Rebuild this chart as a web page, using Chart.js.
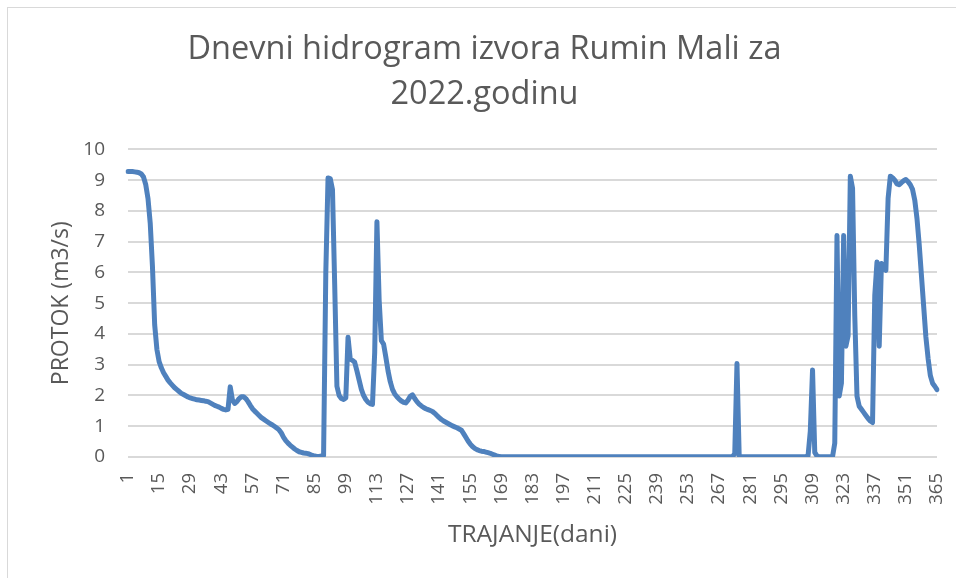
<!DOCTYPE html>
<html>
<head>
  <meta charset="UTF-8">
  <title>Dnevni hidrogram izvora Rumin Mali</title>
  <script src="https://cdn.jsdelivr.net/npm/chart.js"></script>
  <style>
    html, body { margin: 0; padding: 0; background: #ffffff; }
    #hidrogram { display: block; }
  </style>
</head>
<body>
  <canvas id="hidrogram" width="956" height="578"></canvas>
  <script>
    // Days of the year 2022 (categories on the x axis)
    const days = Array.from({ length: 365 }, (_, i) => i + 1);

    // Days that carry a label on the x axis (every 14th day)
    const tickDays = [1, 15, 29, 43, 57, 71, 85, 99, 113, 127, 141, 155, 169, 183,
      197, 211, 225, 239, 253, 267, 281, 295, 309, 323, 337, 351, 365];

    // Daily discharge (m3/s), 14 days per row
    const protok = [
      9.28, 9.28, 9.28, 9.27, 9.26, 9.24, 9.2, 9.1, 8.85, 8.4, 7.6, 6.2, 4.3, 3.5,          // 1-14
      3.1, 2.9, 2.74, 2.62, 2.5, 2.41, 2.33, 2.25, 2.19, 2.13, 2.07, 2.03, 1.99, 1.95,      // 15-28
      1.92, 1.9, 1.88, 1.86, 1.85, 1.84, 1.83, 1.81, 1.8, 1.76, 1.72, 1.68, 1.65, 1.62,     // 29-42
      1.58, 1.55, 1.53, 1.55, 2.28, 1.85, 1.74, 1.8, 1.9, 1.96, 1.96, 1.9, 1.8, 1.68,       // 43-56
      1.57, 1.49, 1.42, 1.35, 1.28, 1.23, 1.18, 1.13, 1.08, 1.04, 0.99, 0.94, 0.88, 0.78,   // 57-70
      0.64, 0.53, 0.45, 0.38, 0.32, 0.26, 0.21, 0.17, 0.15, 0.13, 0.12, 0.11, 0.08, 0.05,   // 71-84
      0.03, 0.02, 0.02, 0.03, 0.05, 6.0, 9.07, 9.05, 8.7, 5.6, 2.3, 2.0, 1.9, 1.87,         // 85-98
      1.92, 3.89, 3.18, 3.14, 3.08, 2.8, 2.5, 2.2, 2.0, 1.87, 1.78, 1.73, 1.71, 3.4,        // 99-112
      7.65, 5.1, 3.78, 3.67, 3.25, 2.8, 2.45, 2.2, 2.05, 1.96, 1.88, 1.82, 1.78, 1.76,      // 113-126
      1.85, 1.97, 2.02, 1.9, 1.8, 1.72, 1.66, 1.61, 1.57, 1.54, 1.51, 1.48, 1.42, 1.35,     // 127-140
      1.28, 1.22, 1.17, 1.13, 1.09, 1.05, 1.01, 0.98, 0.95, 0.91, 0.87, 0.76, 0.64, 0.52,   // 141-154
      0.42, 0.34, 0.28, 0.24, 0.21, 0.19, 0.18, 0.16, 0.14, 0.12, 0.09, 0.06, 0.03, 0.02,   // 155-168
      0.01, 0.01, 0.01, 0.01, 0.01, 0.01, 0.01, 0.01, 0.01, 0.01, 0.01, 0.01, 0.01, 0.01,   // 169-182
      0.01, 0.01, 0.01, 0.01, 0.01, 0.01, 0.01, 0.01, 0.01, 0.01, 0.01, 0.01, 0.01, 0.01,   // 183-196
      0.01, 0.01, 0.01, 0.01, 0.01, 0.01, 0.01, 0.01, 0.01, 0.01, 0.01, 0.01, 0.01, 0.01,   // 197-210
      0.01, 0.01, 0.01, 0.01, 0.01, 0.01, 0.01, 0.01, 0.01, 0.01, 0.01, 0.01, 0.01, 0.01,   // 211-224
      0.01, 0.01, 0.01, 0.01, 0.01, 0.01, 0.01, 0.01, 0.01, 0.01, 0.01, 0.01, 0.01, 0.01,   // 225-238
      0.01, 0.01, 0.01, 0.01, 0.01, 0.01, 0.01, 0.01, 0.01, 0.01, 0.01, 0.01, 0.01, 0.01,   // 239-252
      0.01, 0.01, 0.01, 0.01, 0.01, 0.01, 0.01, 0.01, 0.01, 0.01, 0.01, 0.01, 0.01, 0.01,   // 253-266
      0.01, 0.01, 0.01, 0.01, 0.01, 0.01, 0.02, 0.1, 3.04, 0.03, 0.01, 0.01, 0.01, 0.01,    // 267-280
      0.01, 0.01, 0.01, 0.01, 0.01, 0.01, 0.01, 0.01, 0.01, 0.01, 0.01, 0.01, 0.01, 0.01,   // 281-294
      0.01, 0.01, 0.01, 0.01, 0.01, 0.01, 0.01, 0.01, 0.01, 0.01, 0.01, 0.01, 0.05, 0.85,   // 295-308
      2.83, 0.15, 0.03, 0.01, 0.01, 0.01, 0.01, 0.01, 0.01, 0.01, 0.45, 7.2, 1.98, 2.4,     // 309-322
      7.2, 3.6, 3.94, 9.13, 8.74, 4.6, 1.98, 1.65, 1.55, 1.45, 1.35, 1.25, 1.17, 1.12,      // 323-336
      5.25, 6.34, 3.6, 6.29, 6.15, 6.07, 8.4, 9.13, 9.08, 9.0, 8.88, 8.85, 8.92, 8.98,      // 337-350
      9.02, 8.95, 8.85, 8.7, 8.35, 7.75, 6.9, 5.9, 4.9, 3.9, 3.2, 2.65, 2.4, 2.3,           // 351-364
      2.19                                                                                // 365
    ];

    const textColor = '#595959';
    const fontFamily = '"Open Sans", "DejaVu Sans", sans-serif';

    // light grey frame round the chart, like the Excel chart border
    const frame = {
      id: 'frame',
      beforeDraw(chart) {
        const ctx = chart.ctx;
        ctx.save();
        ctx.fillStyle = '#ffffff';
        ctx.fillRect(0, 0, chart.width, chart.height);
        ctx.strokeStyle = '#d9d9d9';
        ctx.lineWidth = 1;
        ctx.strokeRect(7.5, 7.5, chart.width + 10, chart.height + 10);
        ctx.restore();
      }
    };

    const ctx = document.getElementById('hidrogram').getContext('2d');
    new Chart(ctx, {
      type: 'line',
      data: {
        labels: days,
        datasets: [{
          label: 'Protok',
          data: protok,
          borderColor: '#4f81bd',
          borderWidth: 5,
          borderJoinStyle: 'round',
          borderCapStyle: 'round',
          pointRadius: 0,
          tension: 0,
          fill: false
        }]
      },
      options: {
        responsive: false,
        animation: false,
        layout: { padding: { left: 32, right: 19, top: 0, bottom: 0 } },
        plugins: {
          legend: { display: false },
          tooltip: { enabled: false },
          title: {
            display: true,
            text: ['Dnevni hidrogram izvora Rumin Mali za', '2022.godinu'],
            color: textColor,
            font: { family: fontFamily, size: 32.5, weight: 'normal', lineHeight: 1.36 },
            padding: { top: 28, bottom: 33 }
          }
        },
        scales: {
          x: {
            type: 'category',
            offset: false,
            grid: { display: false, drawTicks: false },
            border: { display: false },
            ticks: {
              autoSkip: false,
              minRotation: 90,
              maxRotation: 90,
              padding: 16,
              color: textColor,
              font: { family: fontFamily, size: 18.5 },
              callback: function (value, index) {
                const d = days[index];
                return tickDays.includes(d) ? String(d) : '';
              }
            },
            title: {
              display: true,
              text: 'TRAJANJE(dani)',
              color: textColor,
              font: { family: fontFamily, size: 24.5 },
              padding: { top: 0, bottom: 28 }
            },
            afterFit: function (scale) {
              scale.height = 121;
              scale.paddingLeft = 0;
              scale.paddingRight = 0;
            }
          },
          y: {
            min: 0,
            max: 10,
            grid: { color: '#d9d9d9', lineWidth: 2, drawTicks: false },
            border: { display: false },
            ticks: {
              stepSize: 1,
              padding: 23,
              color: textColor,
              font: { family: fontFamily, size: 19 }
            },
            title: {
              display: true,
              text: 'PROTOK (m3/s)',
              color: textColor,
              font: { family: fontFamily, size: 23 },
              padding: { top: 16, bottom: 0 }
            },
            afterFit: function (scale) { scale.width = 96; }
          }
        }
      },
      plugins: [frame]
    });
  </script>
</body>
</html>
